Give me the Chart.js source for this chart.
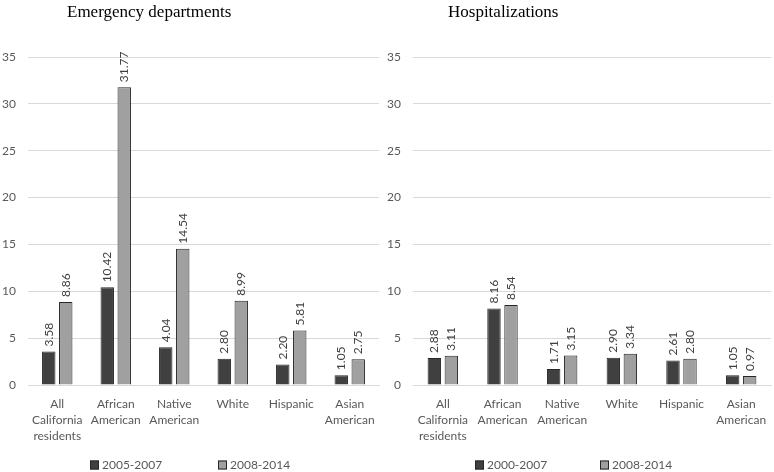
<!DOCTYPE html>
<html>
<head>
<meta charset="utf-8">
<script src="https://cdn.jsdelivr.net/npm/chart.js@4"></script>
<style>
  body { margin: 0; background: #fff; width: 774px; height: 472px; position: relative; overflow: hidden; }
  .panel { position: absolute; top: 0; height: 472px; }
  .ttl { position: absolute; top: 2px; font-family: "Liberation Serif", serif; font-size: 17px; color: #000; white-space: nowrap; }
</style>
</head>
<body>
<div class="panel" style="left:0;width:384px"><canvas id="edChart" width="384" height="472"></canvas></div>
<div class="panel" style="left:384px;width:390px"><canvas id="hospChart" width="390" height="472"></canvas></div>
<div class="ttl" style="left:67px">Emergency departments</div>
<div class="ttl" style="left:448px">Hospitalizations</div>
<script>
const categories = [['All', 'California', 'residents'], ['African', 'American'], ['Native', 'American'], 'White', 'Hispanic', ['Asian', 'American']];
const yTicks = [0, 5, 10, 15, 20, 25, 30, 35];

const edEarlyLabel = '2005-2007';
const edEarly = [3.58, 10.42, 4.04, 2.80, 2.20, 1.05];
const edLateLabel = '2008-2014';
const edLate = [8.86, 31.77, 14.54, 8.99, 5.81, 2.75];

const hospEarlyLabel = '2000-2007';
const hospEarly = [2.88, 8.16, 1.71, 2.90, 2.61, 1.05];
const hospLateLabel = '2008-2014';
const hospLate = [3.11, 8.54, 3.15, 3.34, 2.80, 0.97];

const FONT = 'Lato';
const darkC = '#404040';
const lightC = '#a0a0a0';
const edgeC = '#262626';
const textC = '#595959';

// rotated value labels above each bar
const valueLabels = {
  id: 'valueLabels',
  afterDatasetsDraw(chart) {
    const ctx = chart.ctx;
    chart.data.datasets.forEach((ds, i) => {
      chart.getDatasetMeta(i).data.forEach((bar, j) => {
        ctx.save();
        ctx.font = '12px ' + FONT;
        ctx.fillStyle = '#404040';
        ctx.textAlign = 'left';
        ctx.textBaseline = 'middle';
        ctx.translate(bar.x, bar.y - 5);
        ctx.rotate(-Math.PI / 2);
        ctx.fillText(ds.data[j].toFixed(2), 0, 0);
        ctx.restore();
      });
    });
  }
};

// wide-spaced legend under the axis (built-in legend ties spacing to its height)
const wideLegend = {
  id: 'wideLegend',
  afterDraw(chart, args, opts) {
    const ctx = chart.ctx;
    ctx.save();
    ctx.font = '12px ' + FONT;
    ctx.textBaseline = 'middle';
    ctx.textAlign = 'left';
    chart.data.datasets.forEach((ds, i) => {
      const x = opts.x0 + i * opts.step;
      ctx.fillStyle = ds.backgroundColor;
      ctx.fillRect(x, opts.y - 4.5, 9, 9);
      ctx.strokeStyle = ds.borderColor;
      ctx.lineWidth = 1;
      ctx.strokeRect(x + 0.5, opts.y - 4, 8, 8);
      ctx.fillStyle = textC;
      ctx.fillText(ds.label, x + 12, opts.y);
    });
    ctx.restore();
  }
};

function graphBar(canvasID, early, late, earlyLabel, lateLabel, yWidth, rightPad, catPct, legendX, legendStep) {
  const data = {
    labels: categories,
    datasets: [{
      label: earlyLabel,
      backgroundColor: darkC,
      borderColor: edgeC,
      borderWidth: 1,
      data: early,
      categoryPercentage: catPct,
      barPercentage: 0.79
    }, {
      label: lateLabel,
      backgroundColor: lightC,
      borderColor: edgeC,
      borderWidth: 1,
      data: late,
      categoryPercentage: catPct,
      barPercentage: 0.79
    }]
  };

  const config = {
    type: 'bar',
    data: data,
    plugins: [valueLabels, wideLegend],
    options: {
      responsive: false,
      animation: false,
      layout: { padding: { top: 57, right: rightPad, bottom: 7, left: 0 } },
      scales: {
        y: {
          min: 0,
          max: 35,
          afterBuildTicks: (s) => { s.ticks = yTicks.map(v => ({ value: v })); },
          afterFit: (s) => { s.width = yWidth; },
          border: { display: false },
          grid: { color: '#d9d9d9', drawTicks: false },
          ticks: { padding: 12, color: textC, font: { family: FONT, size: 12 } }
        },
        x: {
          afterFit: (s) => { s.height = 80; },
          border: { display: true, color: '#d9d9d9' },
          grid: { display: false },
          ticks: {
            padding: 3, maxRotation: 0, autoSkip: false, color: textC,
            font: { family: FONT, size: 12, lineHeight: 1.33 }
          }
        }
      },
      plugins: {
        legend: { display: false },
        wideLegend: { x0: legendX, step: legendStep, y: 465 },
        tooltip: { enabled: false }
      }
    }
  };

  var ctx = document.getElementById(canvasID).getContext('2d');
  return new Chart(ctx, config);
}

graphBar('edChart', edEarly, edLate, edEarlyLabel, edLateLabel, 28, 5, 0.581, 90, 128);
graphBar('hospChart', hospEarly, hospLate, hospEarlyLabel, hospLateLabel, 29, 3, 0.57, 91, 125);
</script>
</body>
</html>
